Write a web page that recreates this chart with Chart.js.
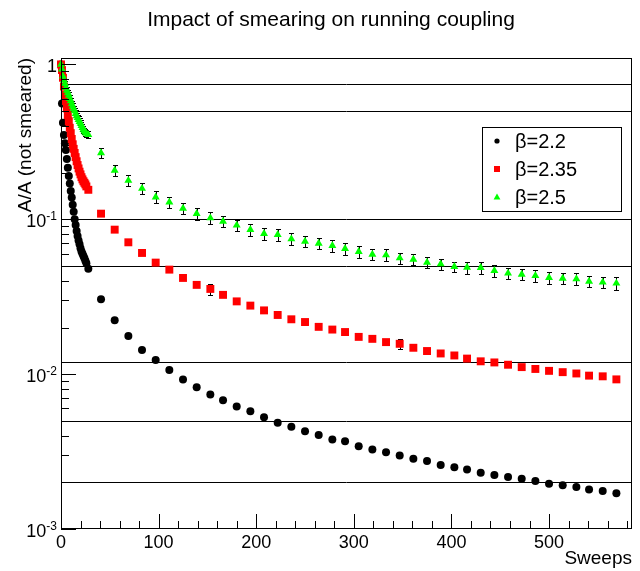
<!DOCTYPE html>
<html>
<head>
<meta charset="utf-8">
<script src="https://cdn.jsdelivr.net/npm/chart.js@4/dist/chart.umd.min.js"></script>
<style>
  html, body { margin: 0; padding: 0; background: #fff; }
  #wrap { width: 640px; height: 571px; position: relative; }
</style>
</head>
<body>
<div id="wrap"><canvas id="c" width="640" height="571"></canvas></div>
<script>
// Number of smearing sweeps for every measurement
const sweeps = [
  0, 1, 2, 3, 4, 5, 6, 7, 8, 9, 10, 11, 12, 13, 14, 15, 16, 17, 18, 19, 20, 21, 22, 23, 24, 25, 26,
  28, 41, 55, 69, 83, 97, 111, 125, 139, 153, 166, 180, 194, 208, 222, 236, 250, 264, 278, 291,
  305, 319, 333, 347, 361, 375, 389, 403, 416, 430, 444, 458, 472, 486, 500, 514, 528, 541, 555, 569
];

// A / A(not smeared) for the three couplings
const beta22 = [
  1.0, 0.56, 0.42, 0.35, 0.31, 0.28, 0.245, 0.215, 0.19, 0.17, 0.152, 0.138, 0.124, 0.112, 0.100,
  0.092, 0.084, 0.078, 0.073, 0.069, 0.065, 0.062, 0.060, 0.058, 0.056, 0.054, 0.052,
  0.0480, 0.0304, 0.0223, 0.01765, 0.01433, 0.01235, 0.01065, 0.00925, 0.00822, 0.00738,
  0.00678, 0.00617, 0.00575, 0.00526, 0.00486, 0.00458, 0.00427, 0.00405, 0.00379, 0.00368,
  0.00342, 0.00326, 0.00313, 0.00298, 0.00284, 0.00275, 0.00259, 0.00250, 0.00242, 0.00231,
  0.00223, 0.00217, 0.00211, 0.00204, 0.00196, 0.00192, 0.00187, 0.00180, 0.00176, 0.00170
];
const beta235 = [
  1.0, 0.92, 0.82, 0.72, 0.64, 0.58, 0.52, 0.47, 0.43, 0.39, 0.36, 0.33, 0.305, 0.285, 0.268,
  0.252, 0.237, 0.224, 0.213, 0.203, 0.195, 0.187, 0.181, 0.176, 0.172, 0.168, 0.163,
  0.155, 0.1087, 0.0857, 0.0710, 0.0606, 0.0525, 0.0473, 0.0418, 0.0377, 0.0355,
  0.0325, 0.0295, 0.0277, 0.0258, 0.0241, 0.0226, 0.0217, 0.0202, 0.0194, 0.0187,
  0.0174, 0.0169, 0.0161, 0.0157, 0.0148, 0.0141, 0.0136, 0.0132, 0.0126, 0.0121,
  0.0119, 0.0115, 0.0111, 0.0108, 0.0105, 0.0103, 0.0101, 0.00978, 0.00968, 0.00925
];
const beta25 = [
  1.0, 0.93, 0.84, 0.79, 0.75, 0.71, 0.68, 0.655, 0.63, 0.60, 0.58, 0.555, 0.535, 0.515, 0.50,
  0.48, 0.465, 0.452, 0.44, 0.427, 0.415, 0.402, 0.39, 0.38, 0.372, 0.365, 0.358,
  0.352, 0.268, 0.207, 0.178, 0.158, 0.139, 0.129, 0.1175, 0.1087, 0.1019,
  0.0969, 0.0914, 0.0857, 0.0807, 0.0796, 0.0746, 0.0720, 0.0699, 0.0676, 0.0646,
  0.0618, 0.0593, 0.0588, 0.0562, 0.0551, 0.0527, 0.0514, 0.0494, 0.0489, 0.0487,
  0.0466, 0.0448, 0.0441, 0.0432, 0.0420, 0.0415, 0.0412, 0.0397, 0.0392, 0.0386
];

// Relative statistical errors
const relErr22 = [
  0, 0.01, 0.01, 0.01, 0.01, 0.01, 0.01, 0.01, 0.01, 0.01, 0.01, 0.01, 0.01, 0.01, 0.01,
  0.01, 0.01, 0.01, 0.01, 0.01, 0.01, 0.01, 0.01, 0.01, 0.01, 0.01, 0.01,
  0.01, 0.01, 0.01, 0.01, 0.01, 0.01, 0.01, 0.01, 0.01, 0.01, 0.01, 0.01, 0.01, 0.01,
  0.01, 0.01, 0.01, 0.01, 0.01, 0.01, 0.01, 0.01, 0.01, 0.01, 0.01, 0.01, 0.01, 0.01,
  0.01, 0.01, 0.01, 0.01, 0.01, 0.01, 0.01, 0.01, 0.01, 0.01, 0.01, 0.01
];
const relErr235 = [
  0, 0.02, 0.02, 0.02, 0.02, 0.02, 0.02, 0.02, 0.02, 0.02, 0.02, 0.02, 0.02, 0.02, 0.02,
  0.02, 0.02, 0.02, 0.02, 0.02, 0.02, 0.02, 0.02, 0.02, 0.02, 0.02, 0.02,
  0.02, 0.02, 0.02, 0.02, 0.02, 0.02, 0.02, 0.02, 0.02, 0.08, 0.02, 0.02, 0.02, 0.02,
  0.02, 0.02, 0.02, 0.02, 0.02, 0.02, 0.02, 0.02, 0.02, 0.075, 0.02, 0.02, 0.02, 0.02,
  0.02, 0.02, 0.02, 0.02, 0.02, 0.02, 0.02, 0.02, 0.02, 0.02, 0.02, 0.02
];
const relErr25 = [
  0, 0.04, 0.04, 0.04, 0.045, 0.045, 0.045, 0.05, 0.05, 0.05, 0.05, 0.05, 0.05, 0.05, 0.05,
  0.05, 0.05, 0.05, 0.05, 0.05, 0.05, 0.05, 0.05, 0.05, 0.05, 0.05, 0.05,
  0.05, 0.07, 0.08, 0.085, 0.085, 0.09, 0.085, 0.085, 0.085, 0.09, 0.085, 0.085, 0.085, 0.085,
  0.09, 0.085, 0.085, 0.085, 0.085, 0.085, 0.085, 0.085, 0.09, 0.085, 0.085, 0.085, 0.085, 0.08,
  0.09, 0.085, 0.085, 0.085, 0.085, 0.085, 0.085, 0.085, 0.085, 0.085, 0.085, 0.09
];

// Horizontal reference levels and axis ticks
const refLevels = [0.75, 0.5, 0.1, 0.05, 0.012, 0.005, 0.002];
const xMajorTicks = [0, 100, 200, 300, 400, 500];
const xMinorStep = 20;
const yDecades = [-3, -2, -1, 0];

const seriesLabels = ['\u03B2=2.2', '\u03B2=2.35', '\u03B2=2.5'];

function toPoints(ys) { return sweeps.map((s, i) => ({ x: s, y: ys[i] })); }

const FONT = '"Liberation Sans", Arial, Helvetica, sans-serif';

function drawMarker(ctx, style, x, y, r, color) {
  ctx.fillStyle = color;
  ctx.beginPath();
  if (style === 'circle') {
    ctx.arc(x, y, r, 0, Math.PI * 2);
  } else if (style === 'rect') {
    ctx.rect(x - r, y - r, 2 * r, 2 * r);
  } else {
    ctx.moveTo(x, y - r * 1.05);
    ctx.lineTo(x + r, y + r * 0.75);
    ctx.lineTo(x - r, y + r * 0.75);
    ctx.closePath();
  }
  ctx.fill();
}

const decorations = {
  id: 'decorations',
  beforeDatasetsDraw(chart) {
    const { ctx, chartArea: a, scales: { x, y } } = chart;
    ctx.save();
    ctx.strokeStyle = '#000';
    ctx.lineWidth = 1;
    // reference levels
    refLevels.forEach(v => {
      const py = Math.round(y.getPixelForValue(v)) + 0.5;
      ctx.beginPath(); ctx.moveTo(a.left, py); ctx.lineTo(a.right, py); ctx.stroke();
    });
    // error bars with end caps
    chart.data.datasets.forEach(ds => {
      ds.data.forEach((p, j) => {
        const e = p.y * ds.relErr[j];
        if (!e) return;
        const px = Math.round(x.getPixelForValue(p.x)) + 0.5;
        const yTop = Math.round(y.getPixelForValue(p.y + e)) + 0.5;
        const yBot = Math.round(y.getPixelForValue(p.y - e)) + 0.5;
        ctx.beginPath();
        ctx.moveTo(px, yTop); ctx.lineTo(px, yBot);
        ctx.moveTo(px - 2.5, yTop); ctx.lineTo(px + 2.5, yTop);
        ctx.moveTo(px - 2.5, yBot); ctx.lineTo(px + 2.5, yBot);
        ctx.stroke();
      });
    });
    ctx.restore();
  },
  afterDraw(chart) {
    const { ctx, chartArea: a, scales: { x, y } } = chart;
    ctx.save();
    ctx.strokeStyle = '#000';
    ctx.lineWidth = 1;
    // frame
    ctx.strokeRect(a.left + 0.5, a.top + 0.5, a.right - a.left - 1, a.bottom - a.top - 1);

    // y ticks (major at decades, minor 2..9)
    ctx.beginPath();
    yDecades.forEach(p => {
      const py = Math.round(y.getPixelForValue(Math.pow(10, p))) + 0.5;
      ctx.moveTo(a.left, py); ctx.lineTo(a.left + 15, py);
      if (p < 0) {
        for (let k = 2; k <= 9; k++) {
          const my = Math.round(y.getPixelForValue(k * Math.pow(10, p))) + 0.5;
          ctx.moveTo(a.left, my); ctx.lineTo(a.left + 8, my);
        }
      }
    });
    // x ticks
    xMajorTicks.forEach(v => {
      const px = Math.round(x.getPixelForValue(v)) + 0.5;
      ctx.moveTo(px, a.bottom); ctx.lineTo(px, a.bottom - 15);
    });
    for (let v = xMinorStep; v < x.max; v += xMinorStep) {
      if (v % 100 === 0) continue;
      const px = Math.round(x.getPixelForValue(v)) + 0.5;
      ctx.moveTo(px, a.bottom); ctx.lineTo(px, a.bottom - 8);
    }
    ctx.stroke();

    ctx.fillStyle = '#000';
    // y tick labels
    const labelRight = a.left - 4;
    yDecades.forEach(p => {
      const py = y.getPixelForValue(Math.pow(10, p));
      ctx.textAlign = 'right';
      ctx.textBaseline = 'alphabetic';
      if (p === 0) {
        ctx.font = '18px ' + FONT;
        ctx.fillText('1', labelRight, py + 8);
      } else {
        const sup = String(p);
        ctx.font = '12px ' + FONT;
        const w = ctx.measureText(sup).width;
        ctx.fillText(sup, labelRight, py + 1);
        ctx.font = '18px ' + FONT;
        ctx.fillText('10', labelRight - w, py + 8);
      }
    });
    // x tick labels
    ctx.font = '18px ' + FONT;
    ctx.textAlign = 'center';
    xMajorTicks.forEach(v => {
      ctx.fillText(String(v), x.getPixelForValue(v), 548);
    });
    // axis titles
    ctx.font = '19px ' + FONT;
    ctx.textAlign = 'right';
    ctx.fillText('Sweeps', a.right, 564);
    ctx.save();
    ctx.translate(31, a.top);
    ctx.rotate(-Math.PI / 2);
    ctx.textAlign = 'right';
    ctx.fillText('A/A (not smeared)', 0, 0);
    ctx.restore();
    // main title
    ctx.font = '21px ' + FONT;
    ctx.textAlign = 'center';
    ctx.fillText('Impact of smearing on running coupling', 331, 26);

    // legend box
    const lx = 482, ly = 127, lw = 140, lh = 85;
    ctx.fillStyle = '#fff';
    ctx.fillRect(lx, ly, lw, lh);
    ctx.strokeStyle = '#000';
    ctx.strokeRect(lx + 0.5, ly + 0.5, lw - 1, lh - 1);
    const entries = [
      { style: 'circle', color: '#000000', r: 2.6 },
      { style: 'rect', color: '#ff0000', r: 3 },
      { style: 'triangle', color: '#00ff00', r: 3.4 }
    ];
    ctx.font = '20px ' + FONT;
    ctx.textAlign = 'left';
    ctx.textBaseline = 'middle';
    entries.forEach((e, i) => {
      const cy = ly + 14 + i * 28;
      drawMarker(ctx, e.style, lx + 15, cy, e.r, e.color);
      ctx.fillStyle = '#000';
      ctx.fillText(seriesLabels[i], lx + 33, cy + 1);
    });
    ctx.restore();
  }
};

new Chart(document.getElementById('c'), {
  type: 'scatter',
  data: {
    datasets: [
      {
        label: seriesLabels[0], data: toPoints(beta22), relErr: relErr22, order: 2,
        pointStyle: 'circle', pointRadius: 4, pointHoverRadius: 4,
        backgroundColor: '#000000', borderColor: '#000000', borderWidth: 0, clip: false
      },
      {
        label: seriesLabels[1], data: toPoints(beta235), relErr: relErr235, order: 1,
        pointStyle: 'rect', pointRadius: 5.6, pointHoverRadius: 5.6,
        backgroundColor: '#ff0000', borderColor: '#ff0000', borderWidth: 0, clip: false
      },
      {
        label: seriesLabels[2], data: toPoints(beta25), relErr: relErr25, order: 0,
        pointStyle: 'triangle', pointRadius: 4.6, pointHoverRadius: 4.6,
        backgroundColor: '#00ff00', borderColor: '#00ff00', borderWidth: 0, clip: false
      }
    ]
  },
  options: {
    responsive: false,
    animation: false,
    devicePixelRatio: 1,
    events: [],
    layout: { padding: { left: 61, right: 8, top: 58, bottom: 42 } },
    plugins: { legend: { display: false }, title: { display: false }, tooltip: { enabled: false } },
    scales: {
      x: {
        type: 'linear', min: 0, max: 585,
        grid: { display: false, drawTicks: false }, border: { display: false },
        ticks: { display: false }, title: { display: false }
      },
      y: {
        type: 'logarithmic', min: 0.001, max: 1.1,
        grid: { display: false, drawTicks: false }, border: { display: false },
        ticks: { display: false }, title: { display: false }
      }
    }
  },
  plugins: [decorations]
});
</script>
</body>
</html>
